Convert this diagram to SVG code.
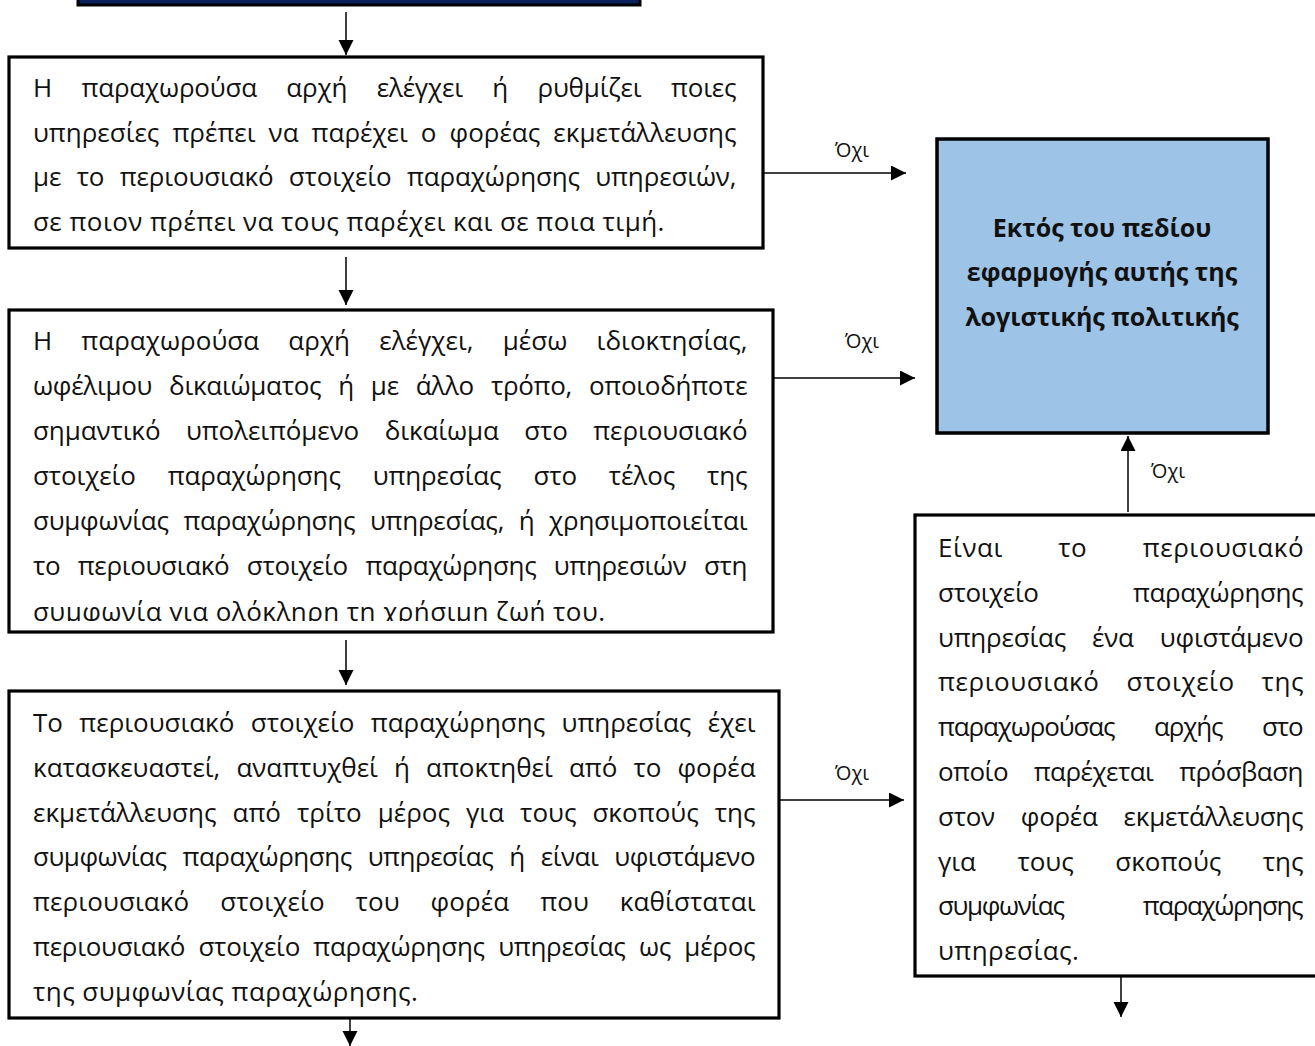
<svg xmlns="http://www.w3.org/2000/svg" width="1315" height="1046" viewBox="0 0 1315 1046">
<style>
.box{fill:#ffffff;stroke:#000000;stroke-width:3.2}
.t{font-family:"Open Sans","Noto Sans","DejaVu Sans",sans-serif;font-size:26px;letter-spacing:0.45px;fill:#111111}
.h{font-family:"Open Sans","Noto Sans","DejaVu Sans",sans-serif;font-size:25px;font-weight:bold;fill:#111111;text-anchor:middle}
.lbl{font-family:"Open Sans","Noto Sans","DejaVu Sans",sans-serif;font-size:20px;fill:#111111}
.c{stroke:#000000;stroke-width:1.5;fill:none;marker-end:url(#ah)}
</style>
<defs>
<marker id="ah" markerUnits="userSpaceOnUse" markerWidth="16" markerHeight="16" refX="15" refY="7.5" orient="auto">
<path d="M0,0 L15,7.5 L0,15 z" fill="#000000"/>
</marker>
<clipPath id="clip2"><rect x="9" y="310" width="764" height="311"/></clipPath>
</defs>
<rect width="1315" height="1046" fill="#ffffff"/>

<g id="top">
<rect x="78" y="-10" width="562" height="15" fill="#0A1F5C" stroke="#000000" stroke-width="3"/>
</g>

<g id="node1">
<rect class="box" x="9" y="57" width="754" height="191"/>
<text class="t" x="33" y="97" textLength="704" lengthAdjust="spacing" style="word-spacing:22.9px">Η παραχωρούσα αρχή ελέγχει ή ρυθμίζει ποιες</text>
<text class="t" x="33" y="141.5" textLength="704" lengthAdjust="spacing" style="word-spacing:6.3px">υπηρεσίες πρέπει να παρέχει ο φορέας εκμετάλλευσης</text>
<text class="t" x="33" y="186" textLength="704" lengthAdjust="spacing" style="word-spacing:8.8px">με το περιουσιακό στοιχείο παραχώρησης υπηρεσιών,</text>
<text class="t" x="33" y="230.5">σε ποιον πρέπει να τους παρέχει και σε ποια τιμή.</text>
</g>

<g id="node2">
<rect x="9" y="310" width="764" height="322" fill="#ffffff"/>
<g clip-path="url(#clip2)">
<text class="t" x="33" y="350" textLength="715" lengthAdjust="spacing" style="word-spacing:22.4px">Η παραχωρούσα αρχή ελέγχει, μέσω ιδιοκτησίας,</text>
<text class="t" x="33" y="395" textLength="715" lengthAdjust="spacing" style="word-spacing:10.5px">ωφέλιμου δικαιώματος ή με άλλο τρόπο, οποιοδήποτε</text>
<text class="t" x="33" y="440" textLength="715" lengthAdjust="spacing" style="word-spacing:18.8px">σημαντικό υπολειπόμενο δικαίωμα στο περιουσιακό</text>
<text class="t" x="33" y="485" textLength="715" lengthAdjust="spacing" style="word-spacing:25.3px">στοιχείο παραχώρησης υπηρεσίας στο τέλος της</text>
<text class="t" x="33" y="530" textLength="715" lengthAdjust="spacing" style="word-spacing:8.1px">συμφωνίας παραχώρησης υπηρεσίας, ή χρησιμοποιείται</text>
<text class="t" x="33" y="575" textLength="715" lengthAdjust="spacing" style="word-spacing:11px">το περιουσιακό στοιχείο παραχώρησης υπηρεσιών στη</text>
<text class="t" x="33" y="621">συμφωνία για ολόκληρη τη χρήσιμη ζωή του.</text>
</g>
<rect x="9" y="310" width="764" height="322" fill="none" stroke="#000000" stroke-width="3.2"/>
</g>

<g id="node3">
<rect class="box" x="9" y="691" width="770" height="327"/>
<text class="t" x="33" y="732" textLength="723" lengthAdjust="spacing" style="word-spacing:9.7px">Το περιουσιακό στοιχείο παραχώρησης υπηρεσίας έχει</text>
<text class="t" x="33" y="776.8" textLength="723" lengthAdjust="spacing" style="word-spacing:9.4px">κατασκευαστεί, αναπτυχθεί ή αποκτηθεί από το φορέα</text>
<text class="t" x="33" y="821.6" textLength="723" lengthAdjust="spacing" style="word-spacing:9.2px">εκμετάλλευσης από τρίτο μέρος για τους σκοπούς της</text>
<text class="t" x="33" y="866.4" textLength="723" lengthAdjust="spacing" style="word-spacing:9.7px">συμφωνίας παραχώρησης υπηρεσίας ή είναι υφιστάμενο</text>
<text class="t" x="33" y="911.2" textLength="723" lengthAdjust="spacing" style="word-spacing:24px">περιουσιακό στοιχείο του φορέα που καθίσταται</text>
<text class="t" x="33" y="956" textLength="723" lengthAdjust="spacing" style="word-spacing:6.8px">περιουσιακό στοιχείο παραχώρησης υπηρεσίας ως μέρος</text>
<text class="t" x="33" y="1000.8">της συμφωνίας παραχώρησης.</text>
</g>

<g id="node4">
<rect class="box" x="915" y="515" width="420" height="461"/>
<text class="t" x="938" y="557" textLength="366" lengthAdjust="spacing" style="word-spacing:48px">Είναι το περιουσιακό</text>
<text class="t" x="938" y="601.8" textLength="366" lengthAdjust="spacing" style="word-spacing:88px">στοιχείο παραχώρησης</text>
<text class="t" x="938" y="646.6" textLength="366" lengthAdjust="spacing" style="word-spacing:19.5px">υπηρεσίας ένα υφιστάμενο</text>
<text class="t" x="938" y="691.4" textLength="366" lengthAdjust="spacing" style="word-spacing:19.5px">περιουσιακό στοιχείο της</text>
<text class="t" x="938" y="736.2" textLength="366" lengthAdjust="spacing" style="word-spacing:33.8px">παραχωρούσας αρχής στο</text>
<text class="t" x="938" y="781" textLength="366" lengthAdjust="spacing" style="word-spacing:19.5px">οποίο παρέχεται πρόσβαση</text>
<text class="t" x="938" y="825.8" textLength="366" lengthAdjust="spacing" style="word-spacing:19.5px">στον φορέα εκμετάλλευσης</text>
<text class="t" x="938" y="870.6" textLength="366" lengthAdjust="spacing" style="word-spacing:34.8px">για τους σκοπούς της</text>
<text class="t" x="938" y="915.4" textLength="366" lengthAdjust="spacing" style="word-spacing:73.8px">συμφωνίας παραχώρησης</text>
<text class="t" x="938" y="960.2">υπηρεσίας.</text>
</g>

<g id="outside">
<rect x="937" y="139" width="331" height="294" fill="#9DC3E6" stroke="#000000" stroke-width="3.5"/>
<text class="h" x="1102" y="237">Εκτός του πεδίου</text>
<text class="h" x="1102" y="281">εφαρμογής αυτής της</text>
<text class="h" x="1102" y="326">λογιστικής πολιτικής</text>
</g>

<g id="connectors">
<line class="c" x1="346" y1="12" x2="346" y2="55"/>
<line class="c" x1="346" y1="257" x2="346" y2="305"/>
<line class="c" x1="346" y1="640" x2="346" y2="685"/>
<line class="c" x1="350" y1="1019" x2="350" y2="1046"/>
<line class="c" x1="1121" y1="977" x2="1121" y2="1017"/>
<line class="c" x1="763" y1="173" x2="906" y2="173"/>
<line class="c" x1="773" y1="378" x2="915" y2="378"/>
<line class="c" x1="779" y1="800" x2="904" y2="800"/>
<line class="c" x1="1128" y1="512" x2="1128" y2="436"/>
<text class="lbl" x="835" y="157">Όχι</text>
<text class="lbl" x="845" y="348">Όχι</text>
<text class="lbl" x="835" y="780">Όχι</text>
<text class="lbl" x="1151" y="478">Όχι</text>
</g>
</svg>
